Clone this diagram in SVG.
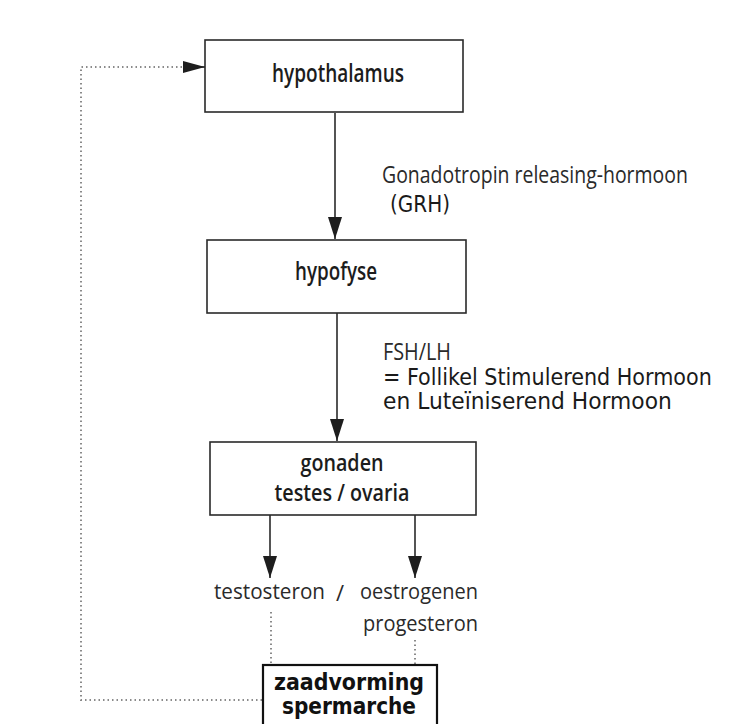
<svg xmlns="http://www.w3.org/2000/svg" width="741" height="724" viewBox="0 0 741 724">
  <defs>
    <marker id="head" viewBox="0 0 22 14" refX="22" refY="7" markerWidth="22" markerHeight="14" markerUnits="userSpaceOnUse" orient="auto">
      <path d="M0,0 L22,7 L0,14 Z" fill="#1e1e1e"/>
    </marker>
    <marker id="headSmall" viewBox="0 0 22 12" refX="22" refY="6" markerWidth="22" markerHeight="12" markerUnits="userSpaceOnUse" orient="auto">
      <path d="M0,0 L22,6 L0,12 Z" fill="#1e1e1e"/>
    </marker>
  </defs>
  <style>
    .box { fill: #ffffff; stroke: #2a2a2a; stroke-width: 1.6; }
    .box2 { fill: #ffffff; stroke: #111111; stroke-width: 2.2; }
    .title { font-family: "Open Sans", "Liberation Sans", sans-serif; font-weight: 600; font-size: 26px; fill: #1c1c1c; text-anchor: middle; }
    .sub { font-size: 24px; }
    .lbl { font-family: "Open Sans", "Liberation Sans", sans-serif; font-size: 24px; fill: #2a2a2a; }
    .hor { font-family: "Open Sans", "Liberation Sans", sans-serif; font-size: 22px; fill: #2a2a2a; }
    .geo { font-family: "DejaVu Sans", "Liberation Sans", sans-serif; font-size: 23px; fill: #1a1a1a; }
    .geoB { font-family: "DejaVu Sans", "Liberation Sans", sans-serif; font-weight: bold; font-size: 23px; fill: #111; text-anchor: middle; }
    .flow { stroke: #2a2a2a; stroke-width: 1.6; fill: none; }
    .dot { stroke: #8a8a8a; stroke-width: 2; stroke-dasharray: 1.5 3; fill: none; }
  </style>
  <rect width="741" height="724" fill="#ffffff"/>

  <!-- connectors -->
  <g id="connectors">
    <line class="flow" x1="335" y1="113" x2="335" y2="239" marker-end="url(#head)"/>
    <line class="flow" x1="337" y1="313" x2="337" y2="441" marker-end="url(#head)"/>
    <line class="flow" x1="270" y1="515" x2="270" y2="578" marker-end="url(#head)"/>
    <line class="flow" x1="415" y1="515" x2="415" y2="578" marker-end="url(#head)"/>
    <!-- feedback loop back to the hypothalamus -->
    <polyline class="dot" points="271,612 271,700"/>
    <polyline class="dot" points="415,640 415,700"/>
    <polyline class="dot" points="415,700 81,700 81,67 184,67"/>
    <line class="flow" x1="184" y1="67" x2="205" y2="67" stroke-width="0" marker-end="url(#headSmall)"/>
  </g>

  <g id="hypothalamus">
    <rect class="box" x="205" y="40" width="258" height="72"/>
    <text class="title" x="338" y="82" textLength="132" lengthAdjust="spacingAndGlyphs">hypothalamus</text>
  </g>

  <g id="hypofyse">
    <rect class="box" x="207" y="240" width="259" height="73"/>
    <text class="title" x="336" y="280" textLength="82" lengthAdjust="spacingAndGlyphs">hypofyse</text>
  </g>

  <g id="gonaden">
    <rect class="box" x="210" y="442" width="266" height="73"/>
    <text class="title sub" x="342" y="471" textLength="83" lengthAdjust="spacingAndGlyphs">gonaden</text>
    <text class="title sub" x="342" y="501" textLength="135" lengthAdjust="spacingAndGlyphs">testes / ovaria</text>
  </g>

  <g id="hormones">
    <text class="hor" x="214" y="599" textLength="111" lengthAdjust="spacingAndGlyphs">testosteron</text>
    <text class="hor" x="336" y="601">/</text>
    <text class="hor" x="360" y="599" textLength="118" lengthAdjust="spacingAndGlyphs">oestrogenen</text>
    <text class="hor" x="363" y="631" textLength="115" lengthAdjust="spacingAndGlyphs">progesteron</text>
  </g>

  <g id="zaadvorming">
    <rect class="box2" x="263" y="665" width="174" height="70"/>
    <text class="geoB" x="349" y="690" textLength="150" lengthAdjust="spacingAndGlyphs">zaadvorming</text>
    <text class="geoB" x="349" y="714" textLength="134" lengthAdjust="spacingAndGlyphs">spermarche</text>
  </g>

  <g id="label-grh">
    <text class="lbl" transform="translate(382,183) scale(0.82,1)" textLength="373" lengthAdjust="spacingAndGlyphs">Gonadotropin releasing-hormoon</text>
    <text class="geo" x="390" y="212" textLength="60" lengthAdjust="spacingAndGlyphs">(GRH)</text>
  </g>

  <g id="label-fsh-lh">
    <text class="lbl" x="383" y="360" textLength="68" lengthAdjust="spacingAndGlyphs">FSH/LH</text>
    <text class="geo" transform="translate(383,385) scale(0.8,1)" textLength="411" lengthAdjust="spacingAndGlyphs">= Follikel Stimulerend Hormoon</text>
    <text class="geo" transform="translate(383,409) scale(0.8,1)" textLength="361" lengthAdjust="spacingAndGlyphs">en Luteïniserend Hormoon</text>
  </g>
</svg>
